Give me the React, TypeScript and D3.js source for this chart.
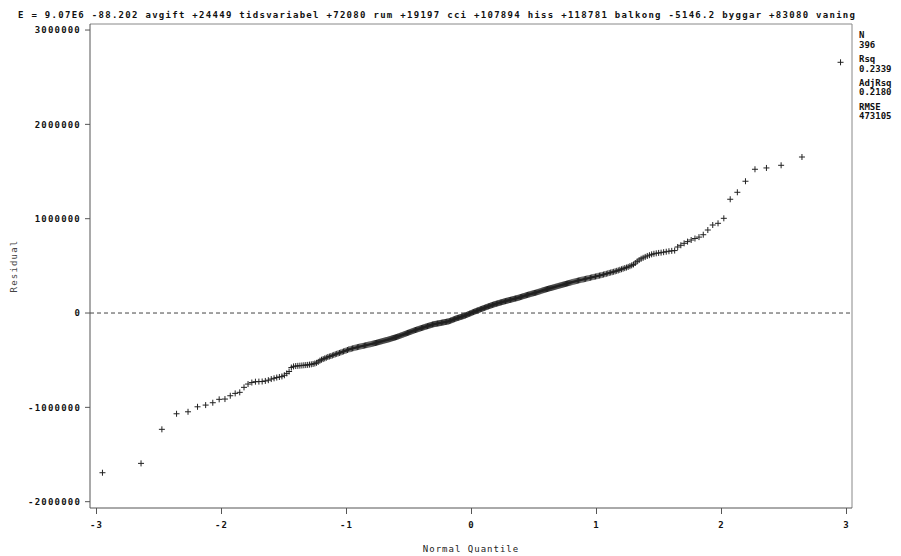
import React from "react";
import * as d3 from "d3";

// Sorted residuals (in thousands)
const residualsK: number[] = [
  -1693, -1594, -1233, -1068, -1047, -994, -976, -951, -915, -912,
  -877, -852, -841, -788, -753, -737, -728, -727, -726, -720,
  -712, -700, -692, -684, -678, -672, -660, -640, -620, -578,
  -566, -562, -560, -558, -556, -554, -552, -550, -547, -544,
  -540, -535, -528, -518, -505, -495, -488, -481, -474, -466,
  -461, -456, -450, -444, -438, -433, -428, -423, -418, -412,
  -407, -402, -397, -392, -386, -383, -379, -375, -372, -368,
  -365, -362, -359, -356, -353, -350, -348, -345, -342, -340,
  -337, -334, -332, -329, -326, -323, -320, -318, -315, -312,
  -309, -306, -303, -300, -297, -294, -291, -288, -286, -283,
  -280, -277, -274, -270, -267, -264, -261, -258, -255, -251,
  -248, -244, -240, -237, -233, -230, -226, -222, -219, -215,
  -211, -208, -204, -201, -197, -194, -190, -187, -183, -180,
  -177, -174, -171, -168, -165, -162, -159, -156, -153, -150,
  -147, -144, -142, -139, -136, -133, -131, -128, -125, -122,
  -120, -118, -116, -115, -113, -111, -110, -108, -107, -105,
  -103, -101, -100, -98, -96, -95, -93, -91, -90, -88,
  -85, -81, -78, -75, -71, -68, -65, -61, -58, -55,
  -52, -50, -47, -44, -42, -39, -36, -34, -31, -28,
  -25, -21, -18, -14, -11, -7, -4, -1, 3, 7,
  10, 14, 17, 20, 24, 27, 30, 33, 36, 40,
  43, 46, 49, 52, 55, 59, 62, 65, 68, 71,
  74, 77, 80, 83, 86, 89, 92, 94, 97, 99,
  102, 104, 107, 109, 112, 114, 117, 119, 122, 124,
  126, 129, 131, 133, 136, 138, 140, 142, 145, 147,
  149, 152, 154, 156, 158, 161, 163, 166, 169, 172,
  175, 178, 180, 183, 186, 189, 192, 195, 197, 200,
  203, 205, 208, 210, 213, 215, 218, 221, 224, 227,
  230, 233, 237, 240, 243, 246, 249, 252, 255, 258,
  261, 264, 266, 269, 272, 275, 278, 281, 284, 287,
  290, 293, 296, 299, 302, 305, 308, 311, 314, 317,
  320, 323, 327, 330, 333, 336, 339, 342, 345, 348,
  351, 354, 356, 359, 362, 365, 368, 371, 374, 378,
  381, 384, 387, 390, 394, 397, 400, 404, 408, 412,
  416, 420, 425, 429, 433, 437, 442, 447, 452, 458,
  464, 470, 476, 482, 489, 497, 505, 515, 530, 548,
  562, 575, 585, 595, 605, 613, 622, 628, 633, 637,
  640, 645, 650, 655, 659, 662, 700, 718, 739, 757,
  774, 790, 805, 830, 880, 933, 951, 1004, 1206, 1280,
  1397, 1524, 1538, 1566, 1654, 2658,
];

const xTicks = [-3, -2, -1, 0, 1, 2, 3];
const yTicks = [-2000000, -1000000, 0, 1000000, 2000000, 3000000];
const titleText =
  "E = 9.07E6 -88.202 avgift +24449 tidsvariabel +72080 rum +19197 cci +107894 hiss +118781 balkong -5146.2 byggar +83080 vaning";
const statLabels = ["N", "Rsq", "AdjRsq", "RMSE"];
const statValues = ["396", "0.2339", "0.2180", "473105"];
const xAxisLabel = "Normal Quantile";
const yAxisLabel = "Residual";

// Inverse standard normal CDF (Acklam)
function invNorm(p: number): number {
  const a = [-39.69683028665376, 220.9460984245205, -275.9285104469687, 138.357751867269, -30.66479806614716, 2.506628277459239];
  const b = [-54.47609879822406, 161.5858368580409, -155.6989798598866, 66.80131188771972, -13.28068155288572];
  const c = [-0.007784894002430293, -0.3223964580411365, -2.400758277161838, -2.549732539343734, 4.374664141464968, 2.938163982698783];
  const d = [0.007784695709041462, 0.3224671290700398, 2.445134137142996, 3.754408661907416];
  const pl = 0.02425;
  if (p < pl) {
    const q = Math.sqrt(-2 * Math.log(p));
    return (((((c[0] * q + c[1]) * q + c[2]) * q + c[3]) * q + c[4]) * q + c[5]) / ((((d[0] * q + d[1]) * q + d[2]) * q + d[3]) * q + 1);
  }
  if (p > 1 - pl) {
    const q = Math.sqrt(-2 * Math.log(1 - p));
    return -(((((c[0] * q + c[1]) * q + c[2]) * q + c[3]) * q + c[4]) * q + c[5]) / ((((d[0] * q + d[1]) * q + d[2]) * q + d[3]) * q + 1);
  }
  const q = p - 0.5;
  const r = q * q;
  return ((((((a[0] * r + a[1]) * r + a[2]) * r + a[3]) * r + a[4]) * r + a[5]) * q) / (((((b[0] * r + b[1]) * r + b[2]) * r + b[3]) * r + b[4]) * r + 1);
}

const W = 901;
const H = 556;
const L = 90, R = 852, T = 24, B = 508;
const FONT = "'DejaVu Sans Mono', monospace";

export default function App() {
  const n = residualsK.length;
  const pts = residualsK.map((v, i) => ({
    q: invNorm((i + 1 - 0.375) / (n + 0.25)),
    r: v * 1000,
  }));
  const x = d3.scaleLinear().domain([-3.052, 3.044]).range([L, R]);
  const y = d3.scaleLinear().domain([-2067000, 3064000]).range([B, T]);

  return (
    <svg
      width={W}
      height={H}
      style={{ position: "absolute", left: 0, top: 0, background: "#fff" }}
    >
      <rect x={0} y={0} width={W} height={H} fill="#fff" />
      <text
        x={18}
        y={18}
        fontFamily={FONT}
        fontWeight="bold"
        fontSize={9}
        fill="#111"
        textLength={837}
        lengthAdjust="spacing"
      >
        {titleText}
      </text>

      {/* zero reference line */}
      <line
        x1={L}
        x2={R}
        y1={y(0)}
        y2={y(0)}
        stroke="#444"
        strokeWidth={1}
        strokeDasharray="4,3"
      />

      {/* frame */}
      <line x1={L} x2={R} y1={T} y2={T} stroke="#888" />
      <line x1={R} x2={R} y1={T} y2={B} stroke="#888" />
      <line x1={L} x2={L} y1={T} y2={B} stroke="#555" />
      <line x1={L} x2={R} y1={B} y2={B} stroke="#555" />

      {/* y ticks */}
      {yTicks.map((t) => (
        <g key={t}>
          <line x1={L - 5} x2={L} y1={y(t)} y2={y(t)} stroke="#555" />
          <text
            x={81}
            y={y(t)}
            dy="0.35em"
            textAnchor="end"
            fontFamily={FONT}
            fontWeight="bold"
            fontSize={9}
            letterSpacing={1.2}
            fill="#111"
          >
            {t === 0 ? "0" : String(t)}
          </text>
        </g>
      ))}

      {/* x ticks */}
      {xTicks.map((t) => (
        <g key={t}>
          <line x1={x(t)} x2={x(t)} y1={B} y2={B + 6} stroke="#555" />
          <text
            x={x(t)}
            y={528}
            textAnchor="middle"
            fontFamily={FONT}
            fontWeight="bold"
            fontSize={9}
            letterSpacing={1}
            fill="#111"
          >
            {String(t)}
          </text>
        </g>
      ))}

      {/* axis labels */}
      <text
        x={(L + R) / 2}
        y={552}
        textAnchor="middle"
        fontFamily={FONT}
        fontSize={9}
        letterSpacing={1}
        fill="#222"
      >
        {xAxisLabel}
      </text>
      <text
        transform={`translate(17,${(T + B) / 2}) rotate(-90)`}
        textAnchor="middle"
        fontFamily={FONT}
        fontSize={9}
        letterSpacing={1.2}
        fill="#444"
      >
        {yAxisLabel}
      </text>

      {/* stats */}
      {statLabels.map((s, i) => (
        <g key={s}>
          <text
            x={859}
            y={38 + i * 24}
            fontFamily={FONT}
            fontWeight="bold"
            fontSize={9}
            fill="#111"
          >
            {s}
          </text>
          <text
            x={859}
            y={48 + i * 23.5}
            fontFamily={FONT}
            fontWeight="bold"
            fontSize={9}
            fill="#111"
          >
            {statValues[i]}
          </text>
        </g>
      ))}

      {/* points */}
      <g stroke="#222" strokeWidth={1} fill="none">
        {pts.map((p, i) => {
          const cx = x(p.q);
          const cy = y(p.r);
          return (
            <path
              key={i}
              d={`M${cx - 3},${cy}H${cx + 3}M${cx},${cy - 3}V${cy + 3}`}
            />
          );
        })}
      </g>
    </svg>
  );
}
